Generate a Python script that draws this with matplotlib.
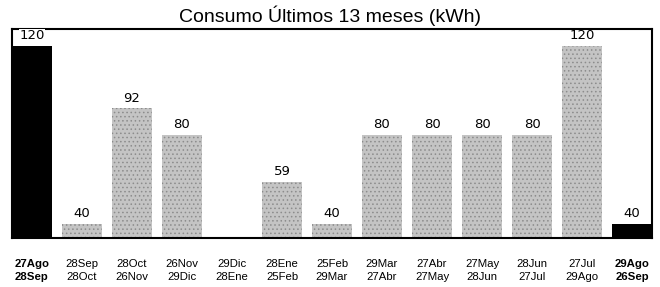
import matplotlib

matplotlib.use("Agg")

import matplotlib.pyplot as plt
import numpy as np

# periods (start / end of each billing cycle)
period_start = ["27Ago", "28Sep", "28Oct", "26Nov", "29Dic", "28Ene", "25Feb",
                "29Mar", "27Abr", "27May", "28Jun", "27Jul", "29Ago"]
period_end = ["28Sep", "28Oct", "26Nov", "29Dic", "28Ene", "25Feb", "29Mar",
              "27Abr", "27May", "28Jun", "27Jul", "29Ago", "26Sep"]
consumo_kwh = [120, 40, 92, 80, None, 59, 40, 80, 80, 80, 80, 120, 40]
highlight = [True, False, False, False, False, False, False,
             False, False, False, False, False, True]

TITLE = "Consumo Últimos 13 meses (kWh)"
Y_MIN, Y_MAX = 33.7, 127.6

plt.rcParams["font.family"] = ["Liberation Sans", "DejaVu Sans"]
plt.rcParams["hatch.linewidth"] = 0.6

fig = plt.figure(figsize=(6.6, 2.87), dpi=100)
ax = fig.add_axes([0.018, 0.171, 0.970, 0.728])

x = np.arange(len(consumo_kwh))
values = np.array([np.nan if v is None else v for v in consumo_kwh], dtype=float)

for xi, v, hl in zip(x, values, highlight):
    if np.isnan(v):
        continue
    if hl:
        ax.bar(xi, v - Y_MIN, bottom=Y_MIN, width=0.8, color="black", linewidth=0, zorder=2)
    else:
        ax.bar(xi, v - Y_MIN, bottom=Y_MIN, width=0.8, facecolor="#c4c4c4",
               edgecolor="#8c8c8c", hatch="....", linewidth=0, zorder=2)
    ax.text(xi, v + 1.6, f"{int(v)}", ha="center", va="bottom",
            family="DejaVu Sans", fontsize=9.5, color="black", zorder=4,
            bbox=dict(facecolor="white", edgecolor="none", pad=0.5) if v >= 118 and hl else None)

ax.set_xlim(-0.4, len(consumo_kwh) - 0.6)
ax.set_ylim(Y_MIN, Y_MAX)
ax.set_yticks([])
ax.set_xticks(x)
labels = [f"{a}\n{b}" for a, b in zip(period_start, period_end)]
ax.set_xticklabels(labels, fontsize=8.2, linespacing=1.35)
for lbl, hl in zip(ax.get_xticklabels(), highlight):
    if hl:
        lbl.set_fontweight("bold")
ax.tick_params(axis="x", length=0, pad=15)

for side in ["top", "right", "left", "bottom"]:
    ax.spines[side].set_linewidth(1.5)
    ax.spines[side].set_color("black")
    ax.spines[side].set_zorder(3)

fig.text(0.5, 1 - 22 / 287, TITLE, ha="center", va="baseline", fontsize=14)

fig.savefig("out.png", dpi=100, facecolor="white")
